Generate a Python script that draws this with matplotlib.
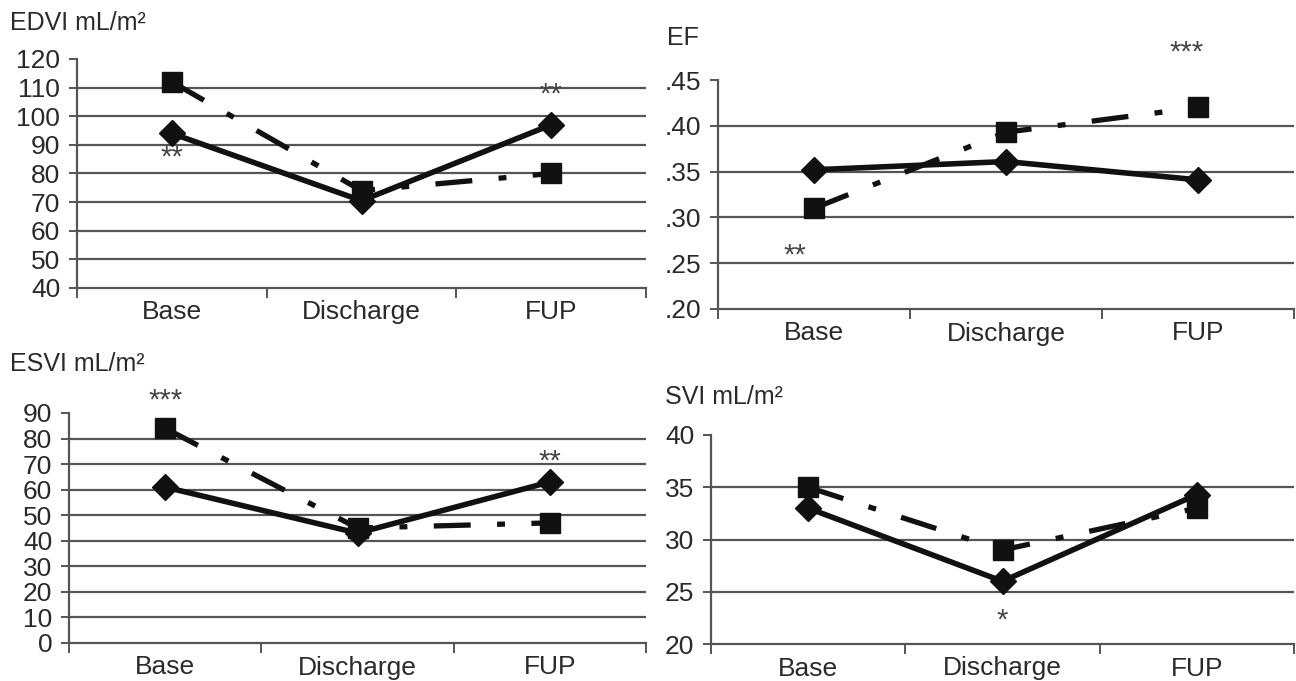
import matplotlib
matplotlib.use("Agg")
import matplotlib.pyplot as plt
from matplotlib.ticker import FuncFormatter

plt.rcParams['font.family'] = ['Liberation Sans', 'DejaVu Sans']

categories = ["Base", "Discharge", "FUP"]

edvi_solid = [94, 70.5, 97]
edvi_dash = [112, 74, 80]
ef_solid = [0.352, 0.361, 0.341]
ef_dash = [0.31, 0.393, 0.42]
esvi_solid = [61, 43, 63]
esvi_dash = [84, 45, 47]
svi_solid = [33, 26, 34.3]
svi_dash = [35, 29, 33]

edvi_ticks = [40, 50, 60, 70, 80, 90, 100, 110, 120]
ef_ticks = [0.20, 0.25, 0.30, 0.35, 0.40, 0.45]
esvi_ticks = [0, 10, 20, 30, 40, 50, 60, 70, 80, 90]
svi_ticks = [20, 25, 30, 35, 40]

# significance marks: (x position, y value, text)
edvi_marks = [(0, 85.5, "**"), (2, 107.5, "**")]
ef_marks = [(-0.1, 0.258, "**"), (1.94, 0.480, "***")]
esvi_marks = [(0, 95, "***"), (2, 71, "**")]
svi_marks = [(1, 22.2, "*")]

W, H = 1296, 681
fig = plt.figure(figsize=(W / 100, H / 100), dpi=100)

def rect(x0, x1, y0, y1):
    return [x0 / W, 1 - y1 / H, (x1 - x0) / W, (y1 - y0) / H]

txt_col = "#2a2a2a"
grid_col = "#555555"

def panel(r, title, title_xy, solid, dash, ticks, marks, fmt=None):
    ax = fig.add_axes(r)
    x = list(range(len(categories)))
    for t in ticks[1:-1]:
        ax.axhline(t, color=grid_col, lw=1.6, zorder=1)
    ax.plot(x, dash, color="#111111", lw=3.8, linestyle=(0, (7, 5, 1.5, 5)),
            marker="s", markersize=15, markerfacecolor="#111111",
            markeredgecolor="#111111", zorder=3)
    ax.plot(x, solid, color="#111111", lw=4.0, linestyle="-",
            marker="D", markersize=13, markerfacecolor="#111111",
            markeredgecolor="#111111", zorder=4)
    ax.set_xlim(-0.5, len(categories) - 0.5)
    ax.set_ylim(ticks[0], ticks[-1])
    ax.set_yticks(ticks)
    if fmt:
        ax.yaxis.set_major_formatter(FuncFormatter(fmt))
    ax.set_xticks([i - 0.5 for i in range(len(categories) + 1)])
    ax.set_xticklabels([])
    ax.set_xticks(x, minor=True)
    ax.set_xticklabels(categories, minor=True)
    ax.tick_params(axis="x", which="minor", length=0, pad=9,
                   labelsize=19, labelcolor=txt_col)
    ax.tick_params(axis="x", which="major", length=7, width=1.4,
                   color=grid_col, direction="out")
    ax.tick_params(axis="y", length=6, width=1.4, color=grid_col,
                   labelsize=19, labelcolor=txt_col, pad=6)
    for s in ["top", "right"]:
        ax.spines[s].set_visible(False)
    for s in ["left", "bottom"]:
        ax.spines[s].set_color(grid_col)
        ax.spines[s].set_linewidth(1.6)
    for mx, my, mt in marks:
        ax.text(mx, my, mt, ha="center", va="center", fontsize=21,
                color="#444444", clip_on=False)
    fig.text(title_xy[0] / W, 1 - title_xy[1] / H, title, ha="left",
             va="center", fontsize=18, color=txt_col)
    return ax

panel(rect(77, 646, 59, 288), "EDVI mL/m\u00b2", (10, 23),
      edvi_solid, edvi_dash, edvi_ticks, edvi_marks)
panel(rect(718, 1294, 80, 309), "EF", (667, 38),
      ef_solid, ef_dash, ef_ticks, ef_marks,
      fmt=lambda v, p: ("%.2f" % v)[1:])
panel(rect(69, 646, 413, 643), "ESVI mL/m\u00b2", (10, 364),
      esvi_solid, esvi_dash, esvi_ticks, esvi_marks)
panel(rect(711, 1294, 435, 644), "SVI mL/m\u00b2", (665, 397),
      svi_solid, svi_dash, svi_ticks, svi_marks)

fig.savefig("out.png", dpi=100, facecolor="white")
